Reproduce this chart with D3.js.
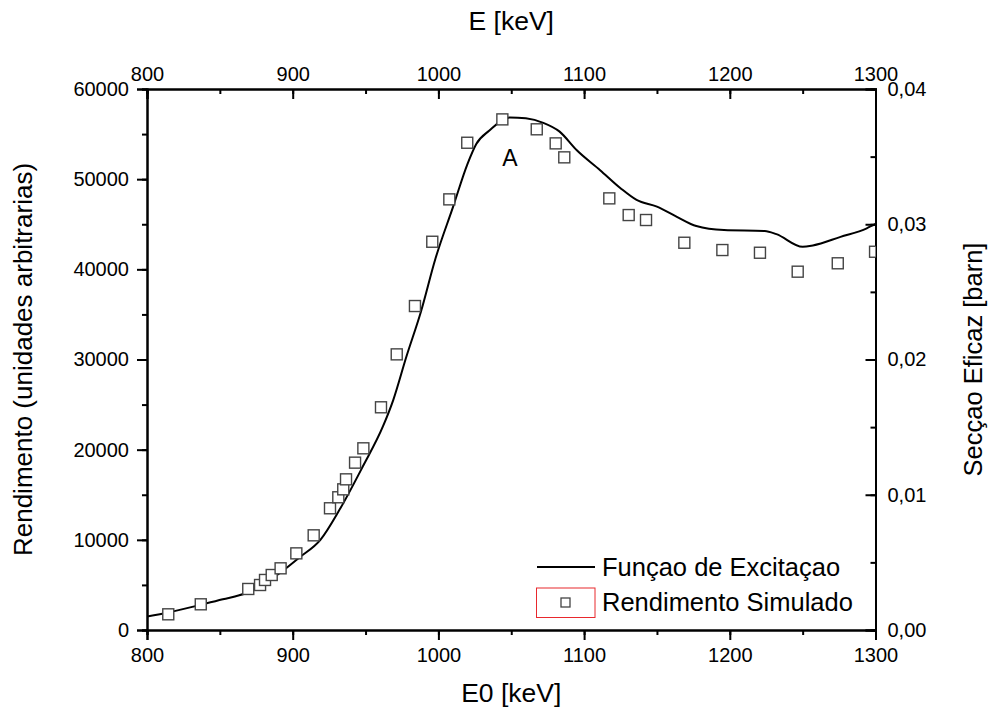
<!DOCTYPE html>
<html>
<head>
<meta charset="utf-8">
<script src="https://cdn.jsdelivr.net/npm/d3@7"></script>
<style>
  body { margin: 0; background: #fff; }
  text { font-family: "Liberation Sans", Arial, sans-serif; fill: #000; }
</style>
</head>
<body>
<svg id="chart" width="989" height="711"></svg>
<script>
// simulated yield (open squares)
const simE = [814.6, 836.9, 869.5, 877.6, 881, 885.6, 891.7, 902.5, 914.4, 925.6, 931.3, 934.7,
  936.6, 942.8, 948.5, 960.6, 971.4, 983.9, 995.8, 1007.5, 1019.8, 1043.9, 1067.5, 1080.5,
  1086.4, 1117.3, 1130.6, 1142.5, 1168.8, 1194.9, 1220.7, 1246.6, 1274.1, 1299.7];
const simYield = [1740, 2850, 4550, 4990, 5550, 6100, 6840, 8500, 10500, 13500, 14720, 15600,
  16710, 18560, 20150, 24700, 30570, 35930, 43060, 47760, 54040, 56630, 55530, 53970,
  52420, 47870, 46020, 45470, 42950, 42140, 41840, 39740, 40670, 41950];

// excitation function (solid line)
const excE = [800, 815, 837, 852, 868, 882, 891, 905, 919, 932, 948, 962, 969, 978, 988, 998,
  1010, 1020, 1026, 1035, 1049, 1060, 1072, 1083, 1095, 1111, 1125, 1136, 1150, 1164, 1177,
  1196, 1224, 1232, 1250, 1257, 1276, 1294, 1300];
const excYield = [1500, 1950, 2800, 3400, 4100, 5300, 6300, 8100, 10000, 13300, 18100, 22600,
  25500, 30300, 35300, 41200, 46900, 51700, 53900, 55400, 56850, 56750, 56250, 55300, 53200,
  51000, 49000, 47700, 46950, 45800, 44800, 44350, 44250, 43900, 42500, 42650, 43600, 44550, 45030];

const xTicks = [800, 900, 1000, 1100, 1200, 1300];
const yTicks = [0, 10000, 20000, 30000, 40000, 50000, 60000];
const y2Ticks = [0, 0.01, 0.02, 0.03, 0.04];

const plotLeft = 147, plotRight = 875.5, plotTop = 89, plotBottom = 630;
const svg = d3.select('#chart');

const x = d3.scaleLinear().domain([800, 1300]).range([plotLeft, plotRight]);
const y = d3.scaleLinear().domain([0, 60000]).range([plotBottom, plotTop]);
const y2 = d3.scaleLinear().domain([0, 0.04]).range([plotBottom, plotTop]);

const minor = (lo, hi, step) => d3.range(lo, hi + step / 2, step);
const commaFmt = v => d3.format('.2f')(v).replace('.', ',');

function styleAxis(g) {
  g.select('.domain').attr('stroke', '#000').attr('stroke-width', 2);
  g.selectAll('.tick line').attr('stroke', '#000').attr('stroke-width', 2);
  g.selectAll('.tick text').style('font-size', '20px').attr('fill', '#000');
}

// minor ticks first
svg.append('g').attr('transform', `translate(0,${plotBottom})`)
  .call(d3.axisBottom(x).tickValues(minor(800, 1300, 50)).tickSize(5).tickFormat(''))
  .call(styleAxis);
svg.append('g').attr('transform', `translate(0,${plotTop})`)
  .call(d3.axisTop(x).tickValues(minor(800, 1300, 50)).tickSize(-5).tickFormat(''))
  .call(styleAxis);
svg.append('g').attr('transform', `translate(${plotLeft},0)`)
  .call(d3.axisLeft(y).tickValues(minor(0, 60000, 5000)).tickSize(5).tickFormat(''))
  .call(styleAxis);
svg.append('g').attr('transform', `translate(${plotRight},0)`)
  .call(d3.axisRight(y2).tickValues(minor(0, 0.04, 0.005)).tickSize(-5).tickFormat(''))
  .call(styleAxis);

// major ticks + labels
svg.append('g').attr('transform', `translate(0,${plotBottom})`)
  .call(d3.axisBottom(x).tickValues(xTicks).tickSize(10).tickPadding(8).tickFormat(d3.format('d')))
  .call(styleAxis);
svg.append('g').attr('transform', `translate(0,${plotTop})`)
  .call(d3.axisTop(x).tickValues(xTicks).tickSize(-10).tickPadding(8).tickFormat(d3.format('d')))
  .call(styleAxis);
svg.append('g').attr('transform', `translate(${plotLeft},0)`)
  .call(d3.axisLeft(y).tickValues(yTicks).tickSize(10).tickPadding(8).tickFormat(d3.format('d')))
  .call(styleAxis);
svg.append('g').attr('transform', `translate(${plotRight},0)`)
  .call(d3.axisRight(y2).tickValues(y2Ticks).tickSize(-10).tickPadding(12).tickFormat(commaFmt))
  .call(styleAxis);

svg.append('clipPath').attr('id', 'plotClip')
  .append('rect').attr('x', plotLeft).attr('y', plotTop)
  .attr('width', plotRight - plotLeft).attr('height', plotBottom - plotTop);

const plot = svg.append('g').attr('clip-path', 'url(#plotClip)');

const line = d3.line().x(d => x(d[0])).y(d => y(d[1])).curve(d3.curveMonotoneX);
plot.append('path')
  .datum(d3.zip(excE, excYield))
  .attr('d', line)
  .attr('fill', 'none')
  .attr('stroke', '#000')
  .attr('stroke-width', 2);

const sq = 11;
plot.selectAll('rect.pt')
  .data(d3.zip(simE, simYield))
  .join('rect')
  .attr('class', 'pt')
  .attr('x', d => x(d[0]) - sq / 2)
  .attr('y', d => y(d[1]) - sq / 2)
  .attr('width', sq)
  .attr('height', sq)
  .attr('fill', '#fff')
  .attr('stroke', '#444')
  .attr('stroke-width', 1.4);

// annotation
svg.append('text').attr('x', 510).attr('y', 166).attr('text-anchor', 'middle')
  .style('font-size', '23px').text('A');

// titles
const midX = (plotLeft + plotRight) / 2, midY = (plotTop + plotBottom) / 2;
svg.append('text').attr('x', midX).attr('y', 30).attr('text-anchor', 'middle')
  .style('font-size', '26.5px').text('E [keV]');
svg.append('text').attr('x', midX).attr('y', 702).attr('text-anchor', 'middle')
  .style('font-size', '26.5px').text('E0 [keV]');
svg.append('text').attr('transform', `translate(32,${midY}) rotate(-90)`)
  .attr('text-anchor', 'middle').style('font-size', '26px').text('Rendimento (unidades arbitrarias)');
svg.append('text').attr('transform', `translate(982,${midY}) rotate(-90)`)
  .attr('text-anchor', 'middle').style('font-size', '25.5px').text('Secçao Eficaz [barn]');

// legend
const lg = svg.append('g');
lg.append('line').attr('x1', 537).attr('x2', 595).attr('y1', 567).attr('y2', 567)
  .attr('stroke', '#000').attr('stroke-width', 2);
lg.append('text').attr('x', 602).attr('y', 576).style('font-size', '25.5px').text('Funçao de Excitaçao');
lg.append('rect').attr('x', 536.5).attr('y', 588).attr('width', 58.5).attr('height', 29.5)
  .attr('fill', 'none').attr('stroke', '#e8282d').attr('stroke-width', 1);
lg.append('rect').attr('x', 561).attr('y', 598).attr('width', 9).attr('height', 9)
  .attr('fill', '#fff').attr('stroke', '#444').attr('stroke-width', 1.3);
lg.append('text').attr('x', 602).attr('y', 611).style('font-size', '25.5px').text('Rendimento Simulado');
</script>
</body>
</html>
